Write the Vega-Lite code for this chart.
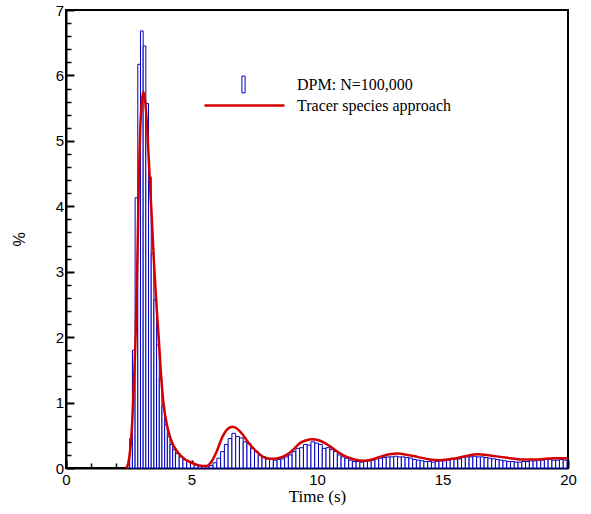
{
  "$schema": "https://vega.github.io/schema/vega-lite/v6.json",
  "width": 502,
  "height": 458,
  "autosize": {"type": "none"},
  "padding": {"left": 66, "top": 10, "right": 23, "bottom": 46},
  "config": {
    "view": {"stroke": "black", "strokeWidth": 2},
    "axis": {"grid": false, "domainColor": "black", "domainWidth": 2, "tickColor": "black", "labelColor": "black", "titleColor": "black", "labelFont": "Liberation Sans", "labelFontSize": 15, "zindex": 1, "labelFlush": false}
  },
  "datasets": {
    "bars": [
      {"t0": 2.432, "t1": 2.539, "p": 0.05, "s": "DPM: N=100,000"},
      {"t0": 2.539, "t1": 2.646, "p": 0.45, "s": "DPM: N=100,000"},
      {"t0": 2.646, "t1": 2.753, "p": 1.8, "s": "DPM: N=100,000"},
      {"t0": 2.753, "t1": 2.86, "p": 4.13, "s": "DPM: N=100,000"},
      {"t0": 2.86, "t1": 2.967, "p": 6.17, "s": "DPM: N=100,000"},
      {"t0": 2.967, "t1": 3.074, "p": 6.68, "s": "DPM: N=100,000"},
      {"t0": 3.074, "t1": 3.181, "p": 6.45, "s": "DPM: N=100,000"},
      {"t0": 3.181, "t1": 3.288, "p": 5.57, "s": "DPM: N=100,000"},
      {"t0": 3.288, "t1": 3.395, "p": 4.45, "s": "DPM: N=100,000"},
      {"t0": 3.395, "t1": 3.502, "p": 3.28, "s": "DPM: N=100,000"},
      {"t0": 3.502, "t1": 3.609, "p": 2.57, "s": "DPM: N=100,000"},
      {"t0": 3.609, "t1": 3.716, "p": 1.88, "s": "DPM: N=100,000"},
      {"t0": 3.716, "t1": 3.823, "p": 1.37, "s": "DPM: N=100,000"},
      {"t0": 3.823, "t1": 3.93, "p": 0.95, "s": "DPM: N=100,000"},
      {"t0": 3.93, "t1": 4.037, "p": 0.66, "s": "DPM: N=100,000"},
      {"t0": 4.037, "t1": 4.144, "p": 0.48, "s": "DPM: N=100,000"},
      {"t0": 4.144, "t1": 4.251, "p": 0.36, "s": "DPM: N=100,000"},
      {"t0": 4.251, "t1": 4.36, "p": 0.28, "s": "DPM: N=100,000"},
      {"t0": 4.36, "t1": 4.51, "p": 0.22, "s": "DPM: N=100,000"},
      {"t0": 4.51, "t1": 4.66, "p": 0.17, "s": "DPM: N=100,000"},
      {"t0": 4.66, "t1": 4.81, "p": 0.13, "s": "DPM: N=100,000"},
      {"t0": 4.81, "t1": 4.96, "p": 0.1, "s": "DPM: N=100,000"},
      {"t0": 4.96, "t1": 5.11, "p": 0.07, "s": "DPM: N=100,000"},
      {"t0": 5.11, "t1": 5.26, "p": 0.05, "s": "DPM: N=100,000"},
      {"t0": 5.26, "t1": 5.41, "p": 0.03, "s": "DPM: N=100,000"},
      {"t0": 5.41, "t1": 5.56, "p": 0.02, "s": "DPM: N=100,000"},
      {"t0": 5.56, "t1": 5.71, "p": 0.02, "s": "DPM: N=100,000"},
      {"t0": 5.71, "t1": 5.86, "p": 0.04, "s": "DPM: N=100,000"},
      {"t0": 5.86, "t1": 6.01, "p": 0.08, "s": "DPM: N=100,000"},
      {"t0": 6.01, "t1": 6.16, "p": 0.15, "s": "DPM: N=100,000"},
      {"t0": 6.16, "t1": 6.31, "p": 0.25, "s": "DPM: N=100,000"},
      {"t0": 6.31, "t1": 6.46, "p": 0.36, "s": "DPM: N=100,000"},
      {"t0": 6.46, "t1": 6.61, "p": 0.45, "s": "DPM: N=100,000"},
      {"t0": 6.61, "t1": 6.76, "p": 0.53, "s": "DPM: N=100,000"},
      {"t0": 6.76, "t1": 6.91, "p": 0.48, "s": "DPM: N=100,000"},
      {"t0": 6.91, "t1": 7.06, "p": 0.46, "s": "DPM: N=100,000"},
      {"t0": 7.06, "t1": 7.21, "p": 0.4, "s": "DPM: N=100,000"},
      {"t0": 7.21, "t1": 7.36, "p": 0.38, "s": "DPM: N=100,000"},
      {"t0": 7.36, "t1": 7.51, "p": 0.3, "s": "DPM: N=100,000"},
      {"t0": 7.51, "t1": 7.66, "p": 0.25, "s": "DPM: N=100,000"},
      {"t0": 7.66, "t1": 7.81, "p": 0.2, "s": "DPM: N=100,000"},
      {"t0": 7.81, "t1": 7.96, "p": 0.17, "s": "DPM: N=100,000"},
      {"t0": 7.96, "t1": 8.11, "p": 0.14, "s": "DPM: N=100,000"},
      {"t0": 8.11, "t1": 8.26, "p": 0.13, "s": "DPM: N=100,000"},
      {"t0": 8.26, "t1": 8.41, "p": 0.12, "s": "DPM: N=100,000"},
      {"t0": 8.41, "t1": 8.56, "p": 0.13, "s": "DPM: N=100,000"},
      {"t0": 8.56, "t1": 8.71, "p": 0.14, "s": "DPM: N=100,000"},
      {"t0": 8.71, "t1": 8.86, "p": 0.17, "s": "DPM: N=100,000"},
      {"t0": 8.86, "t1": 9.01, "p": 0.2, "s": "DPM: N=100,000"},
      {"t0": 9.01, "t1": 9.16, "p": 0.25, "s": "DPM: N=100,000"},
      {"t0": 9.16, "t1": 9.31, "p": 0.3, "s": "DPM: N=100,000"},
      {"t0": 9.31, "t1": 9.46, "p": 0.31, "s": "DPM: N=100,000"},
      {"t0": 9.46, "t1": 9.61, "p": 0.36, "s": "DPM: N=100,000"},
      {"t0": 9.61, "t1": 9.76, "p": 0.35, "s": "DPM: N=100,000"},
      {"t0": 9.76, "t1": 9.91, "p": 0.4, "s": "DPM: N=100,000"},
      {"t0": 9.91, "t1": 10.06, "p": 0.38, "s": "DPM: N=100,000"},
      {"t0": 10.06, "t1": 10.21, "p": 0.36, "s": "DPM: N=100,000"},
      {"t0": 10.21, "t1": 10.36, "p": 0.3, "s": "DPM: N=100,000"},
      {"t0": 10.36, "t1": 10.51, "p": 0.31, "s": "DPM: N=100,000"},
      {"t0": 10.51, "t1": 10.66, "p": 0.28, "s": "DPM: N=100,000"},
      {"t0": 10.66, "t1": 10.81, "p": 0.25, "s": "DPM: N=100,000"},
      {"t0": 10.81, "t1": 10.96, "p": 0.2, "s": "DPM: N=100,000"},
      {"t0": 10.96, "t1": 11.11, "p": 0.17, "s": "DPM: N=100,000"},
      {"t0": 11.11, "t1": 11.26, "p": 0.15, "s": "DPM: N=100,000"},
      {"t0": 11.26, "t1": 11.41, "p": 0.12, "s": "DPM: N=100,000"},
      {"t0": 11.41, "t1": 11.56, "p": 0.1, "s": "DPM: N=100,000"},
      {"t0": 11.56, "t1": 11.71, "p": 0.1, "s": "DPM: N=100,000"},
      {"t0": 11.71, "t1": 11.86, "p": 0.09, "s": "DPM: N=100,000"},
      {"t0": 11.86, "t1": 12.01, "p": 0.1, "s": "DPM: N=100,000"},
      {"t0": 12.01, "t1": 12.16, "p": 0.11, "s": "DPM: N=100,000"},
      {"t0": 12.16, "t1": 12.31, "p": 0.12, "s": "DPM: N=100,000"},
      {"t0": 12.31, "t1": 12.46, "p": 0.14, "s": "DPM: N=100,000"},
      {"t0": 12.46, "t1": 12.61, "p": 0.15, "s": "DPM: N=100,000"},
      {"t0": 12.61, "t1": 12.76, "p": 0.16, "s": "DPM: N=100,000"},
      {"t0": 12.76, "t1": 12.91, "p": 0.17, "s": "DPM: N=100,000"},
      {"t0": 12.91, "t1": 13.06, "p": 0.17, "s": "DPM: N=100,000"},
      {"t0": 13.06, "t1": 13.21, "p": 0.18, "s": "DPM: N=100,000"},
      {"t0": 13.21, "t1": 13.36, "p": 0.17, "s": "DPM: N=100,000"},
      {"t0": 13.36, "t1": 13.51, "p": 0.17, "s": "DPM: N=100,000"},
      {"t0": 13.51, "t1": 13.66, "p": 0.16, "s": "DPM: N=100,000"},
      {"t0": 13.66, "t1": 13.81, "p": 0.15, "s": "DPM: N=100,000"},
      {"t0": 13.81, "t1": 13.96, "p": 0.13, "s": "DPM: N=100,000"},
      {"t0": 13.96, "t1": 14.11, "p": 0.12, "s": "DPM: N=100,000"},
      {"t0": 14.11, "t1": 14.26, "p": 0.11, "s": "DPM: N=100,000"},
      {"t0": 14.26, "t1": 14.41, "p": 0.1, "s": "DPM: N=100,000"},
      {"t0": 14.41, "t1": 14.56, "p": 0.1, "s": "DPM: N=100,000"},
      {"t0": 14.56, "t1": 14.71, "p": 0.09, "s": "DPM: N=100,000"},
      {"t0": 14.71, "t1": 14.86, "p": 0.1, "s": "DPM: N=100,000"},
      {"t0": 14.86, "t1": 15.01, "p": 0.11, "s": "DPM: N=100,000"},
      {"t0": 15.01, "t1": 15.16, "p": 0.11, "s": "DPM: N=100,000"},
      {"t0": 15.16, "t1": 15.31, "p": 0.12, "s": "DPM: N=100,000"},
      {"t0": 15.31, "t1": 15.46, "p": 0.13, "s": "DPM: N=100,000"},
      {"t0": 15.46, "t1": 15.61, "p": 0.14, "s": "DPM: N=100,000"},
      {"t0": 15.61, "t1": 15.76, "p": 0.14, "s": "DPM: N=100,000"},
      {"t0": 15.76, "t1": 15.91, "p": 0.16, "s": "DPM: N=100,000"},
      {"t0": 15.91, "t1": 16.06, "p": 0.17, "s": "DPM: N=100,000"},
      {"t0": 16.06, "t1": 16.21, "p": 0.17, "s": "DPM: N=100,000"},
      {"t0": 16.21, "t1": 16.36, "p": 0.18, "s": "DPM: N=100,000"},
      {"t0": 16.36, "t1": 16.51, "p": 0.17, "s": "DPM: N=100,000"},
      {"t0": 16.51, "t1": 16.66, "p": 0.17, "s": "DPM: N=100,000"},
      {"t0": 16.66, "t1": 16.81, "p": 0.16, "s": "DPM: N=100,000"},
      {"t0": 16.81, "t1": 16.96, "p": 0.15, "s": "DPM: N=100,000"},
      {"t0": 16.96, "t1": 17.11, "p": 0.14, "s": "DPM: N=100,000"},
      {"t0": 17.11, "t1": 17.26, "p": 0.13, "s": "DPM: N=100,000"},
      {"t0": 17.26, "t1": 17.41, "p": 0.12, "s": "DPM: N=100,000"},
      {"t0": 17.41, "t1": 17.56, "p": 0.11, "s": "DPM: N=100,000"},
      {"t0": 17.56, "t1": 17.71, "p": 0.1, "s": "DPM: N=100,000"},
      {"t0": 17.71, "t1": 17.86, "p": 0.1, "s": "DPM: N=100,000"},
      {"t0": 17.86, "t1": 18.01, "p": 0.09, "s": "DPM: N=100,000"},
      {"t0": 18.01, "t1": 18.16, "p": 0.09, "s": "DPM: N=100,000"},
      {"t0": 18.16, "t1": 18.31, "p": 0.1, "s": "DPM: N=100,000"},
      {"t0": 18.31, "t1": 18.46, "p": 0.1, "s": "DPM: N=100,000"},
      {"t0": 18.46, "t1": 18.61, "p": 0.11, "s": "DPM: N=100,000"},
      {"t0": 18.61, "t1": 18.76, "p": 0.11, "s": "DPM: N=100,000"},
      {"t0": 18.76, "t1": 18.91, "p": 0.12, "s": "DPM: N=100,000"},
      {"t0": 18.91, "t1": 19.06, "p": 0.12, "s": "DPM: N=100,000"},
      {"t0": 19.06, "t1": 19.21, "p": 0.13, "s": "DPM: N=100,000"},
      {"t0": 19.21, "t1": 19.36, "p": 0.13, "s": "DPM: N=100,000"},
      {"t0": 19.36, "t1": 19.51, "p": 0.12, "s": "DPM: N=100,000"},
      {"t0": 19.51, "t1": 19.66, "p": 0.12, "s": "DPM: N=100,000"},
      {"t0": 19.66, "t1": 19.81, "p": 0.13, "s": "DPM: N=100,000"},
      {"t0": 19.81, "t1": 19.96, "p": 0.12, "s": "DPM: N=100,000"}
    ],
    "curve": [
      {"t": 2.4, "p": 0, "s": "Tracer species approach"},
      {"t": 2.48, "p": 0.07, "s": "Tracer species approach"},
      {"t": 2.55, "p": 0.25, "s": "Tracer species approach"},
      {"t": 2.62, "p": 0.58, "s": "Tracer species approach"},
      {"t": 2.71, "p": 1.35, "s": "Tracer species approach"},
      {"t": 2.78, "p": 2.11, "s": "Tracer species approach"},
      {"t": 2.85, "p": 3.3, "s": "Tracer species approach"},
      {"t": 2.91, "p": 4.55, "s": "Tracer species approach"},
      {"t": 2.96, "p": 5.2, "s": "Tracer species approach"},
      {"t": 3.01, "p": 5.55, "s": "Tracer species approach"},
      {"t": 3.08, "p": 5.75, "s": "Tracer species approach"},
      {"t": 3.14, "p": 5.65, "s": "Tracer species approach"},
      {"t": 3.2, "p": 5.4, "s": "Tracer species approach"},
      {"t": 3.26, "p": 5.0, "s": "Tracer species approach"},
      {"t": 3.32, "p": 4.55, "s": "Tracer species approach"},
      {"t": 3.42, "p": 3.8, "s": "Tracer species approach"},
      {"t": 3.52, "p": 3.03, "s": "Tracer species approach"},
      {"t": 3.62, "p": 2.4, "s": "Tracer species approach"},
      {"t": 3.7, "p": 1.95, "s": "Tracer species approach"},
      {"t": 3.8, "p": 1.35, "s": "Tracer species approach"},
      {"t": 3.88, "p": 1.0, "s": "Tracer species approach"},
      {"t": 4.01, "p": 0.68, "s": "Tracer species approach"},
      {"t": 4.14, "p": 0.48, "s": "Tracer species approach"},
      {"t": 4.3, "p": 0.33, "s": "Tracer species approach"},
      {"t": 4.54, "p": 0.2, "s": "Tracer species approach"},
      {"t": 4.75, "p": 0.13, "s": "Tracer species approach"},
      {"t": 5.0, "p": 0.08, "s": "Tracer species approach"},
      {"t": 5.3, "p": 0.04, "s": "Tracer species approach"},
      {"t": 5.6, "p": 0.03, "s": "Tracer species approach"},
      {"t": 5.8, "p": 0.1, "s": "Tracer species approach"},
      {"t": 6.0, "p": 0.25, "s": "Tracer species approach"},
      {"t": 6.26, "p": 0.5, "s": "Tracer species approach"},
      {"t": 6.45, "p": 0.6, "s": "Tracer species approach"},
      {"t": 6.64, "p": 0.63, "s": "Tracer species approach"},
      {"t": 6.85, "p": 0.59, "s": "Tracer species approach"},
      {"t": 7.06, "p": 0.5, "s": "Tracer species approach"},
      {"t": 7.3, "p": 0.37, "s": "Tracer species approach"},
      {"t": 7.6, "p": 0.25, "s": "Tracer species approach"},
      {"t": 7.85, "p": 0.17, "s": "Tracer species approach"},
      {"t": 8.13, "p": 0.14, "s": "Tracer species approach"},
      {"t": 8.45, "p": 0.15, "s": "Tracer species approach"},
      {"t": 8.79, "p": 0.2, "s": "Tracer species approach"},
      {"t": 9.05, "p": 0.28, "s": "Tracer species approach"},
      {"t": 9.32, "p": 0.38, "s": "Tracer species approach"},
      {"t": 9.55, "p": 0.42, "s": "Tracer species approach"},
      {"t": 9.8, "p": 0.44, "s": "Tracer species approach"},
      {"t": 10.1, "p": 0.42, "s": "Tracer species approach"},
      {"t": 10.52, "p": 0.33, "s": "Tracer species approach"},
      {"t": 10.85, "p": 0.24, "s": "Tracer species approach"},
      {"t": 11.18, "p": 0.17, "s": "Tracer species approach"},
      {"t": 11.5, "p": 0.13, "s": "Tracer species approach"},
      {"t": 11.8, "p": 0.11, "s": "Tracer species approach"},
      {"t": 12.2, "p": 0.13, "s": "Tracer species approach"},
      {"t": 12.5, "p": 0.17, "s": "Tracer species approach"},
      {"t": 12.9, "p": 0.21, "s": "Tracer species approach"},
      {"t": 13.2, "p": 0.22, "s": "Tracer species approach"},
      {"t": 13.6, "p": 0.2, "s": "Tracer species approach"},
      {"t": 14.0, "p": 0.17, "s": "Tracer species approach"},
      {"t": 14.5, "p": 0.13, "s": "Tracer species approach"},
      {"t": 14.9, "p": 0.12, "s": "Tracer species approach"},
      {"t": 15.4, "p": 0.14, "s": "Tracer species approach"},
      {"t": 15.9, "p": 0.18, "s": "Tracer species approach"},
      {"t": 16.4, "p": 0.21, "s": "Tracer species approach"},
      {"t": 16.9, "p": 0.19, "s": "Tracer species approach"},
      {"t": 17.5, "p": 0.16, "s": "Tracer species approach"},
      {"t": 18.2, "p": 0.13, "s": "Tracer species approach"},
      {"t": 18.8, "p": 0.13, "s": "Tracer species approach"},
      {"t": 19.4, "p": 0.15, "s": "Tracer species approach"},
      {"t": 20, "p": 0.15, "s": "Tracer species approach"}
    ]
  },
  "layer": [
    {
      "data": {"name": "bars"},
      "mark": {"type": "rect", "fill": "white", "strokeWidth": 1},
      "encoding": {
        "x": {"field": "t0", "type": "quantitative", "scale": {"domain": [0, 20], "nice": false},
              "axis": {"orient": "bottom", "values": [0, 5, 10, 15, 20], "tickSize": -8, "tickWidth": 2, "labelPadding": 12, "title": "Time (s)", "titleFont": "Liberation Serif", "titleFontSize": 17, "titleFontWeight": "normal", "titlePadding": 1}},
        "x2": {"field": "t1"},
        "y": {"field": "p", "type": "quantitative", "scale": {"domain": [0, 7], "nice": false},
              "axis": {"orient": "left", "values": [0, 1, 2, 3, 4, 5, 6, 7], "tickSize": -8, "tickWidth": 2, "labelPadding": 10.5, "title": "%", "titleFont": "Liberation Sans", "titleFontSize": 16, "titleFontWeight": "normal", "titlePadding": 28}},
        "y2": {"datum": 0},
        "stroke": {"field": "s", "type": "nominal", "scale": {"range": ["#0000c0"]},
                 "legend": {"orient": "none", "legendX": 137, "legendY": 34, "title": null, "padding": 0,
                            "symbolType": "M-0.04,-0.21H0.04V0.21H-0.04Z", "symbolSize": 6400,
                            "symbolStrokeWidth": 1,
                            "labelFont": "Liberation Serif", "labelFontSize": 16, "labelColor": "black", "labelOffset": 13}}
      }
    },
    {
      "data": {"name": "curve"},
      "mark": {"type": "line", "strokeWidth": 2.5, "interpolate": "monotone"},
      "encoding": {
        "x": {"field": "t", "type": "quantitative", "scale": {"domain": [0, 20], "nice": false},
              "axis": {"orient": "bottom", "values": [1, 2, 3, 4, 6, 7, 8, 9, 11, 12, 13, 14, 16, 17, 18, 19], "labels": false, "domain": false, "tickSize": -5, "tickWidth": 1.5, "title": null}},
        "y": {"field": "p", "type": "quantitative", "scale": {"domain": [0, 7], "nice": false},
              "axis": {"orient": "left", "values": [0.2, 0.4, 0.6, 0.8, 1.2, 1.4, 1.6, 1.8, 2.2, 2.4, 2.6, 2.8, 3.2, 3.4, 3.6, 3.8, 4.2, 4.4, 4.6, 4.8, 5.2, 5.4, 5.6, 5.8, 6.2, 6.4, 6.6, 6.8], "labels": false, "domain": false, "tickSize": -5, "tickWidth": 1.5, "title": null}},
        "stroke": {"field": "s", "type": "nominal", "scale": {"range": ["#d40000"]},
                   "legend": {"orient": "none", "legendX": 137, "legendY": 54, "title": null, "padding": 0,
                              "symbolType": "stroke", "symbolSize": 6400, "symbolStrokeWidth": 2.5,
                              "labelFont": "Liberation Serif", "labelFontSize": 16, "labelColor": "black", "labelOffset": 11}}
      }
    }
  ],
  "resolve": {"scale": {"x": "independent", "y": "independent", "stroke": "independent"}, "axis": {"x": "independent", "y": "independent"}}
}
